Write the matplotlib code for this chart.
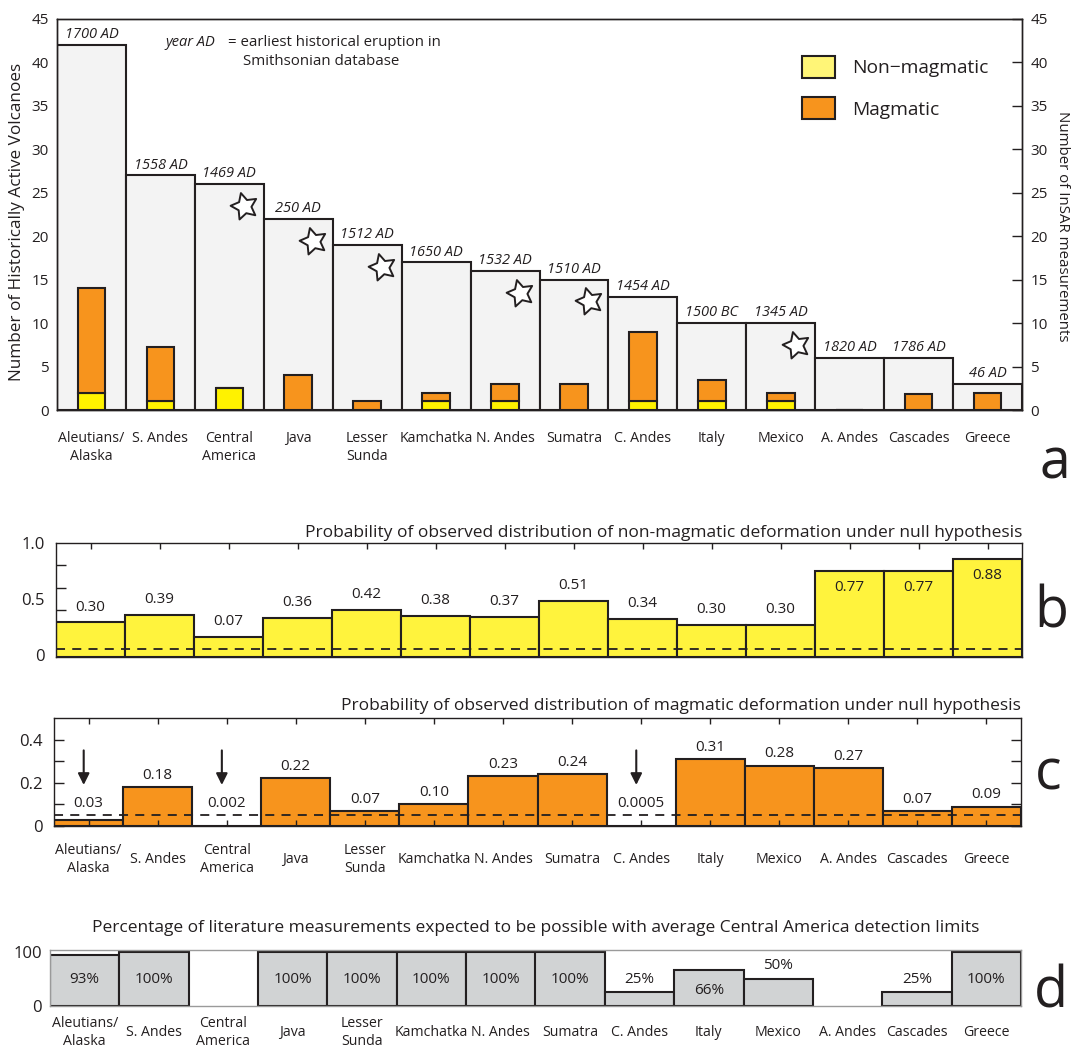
import numpy as np
import matplotlib.pyplot as plt
from matplotlib.path import Path
from matplotlib.markers import MarkerStyle
from matplotlib.patches import Patch
from matplotlib.transforms import Affine2D

plt.rcParams['font.family'] = ['Open Sans', 'DejaVu Sans']

# Regions, sorted by number of historically active volcanoes
regions = ['Aleutians/\nAlaska', 'S. Andes', 'Central\nAmerica', 'Java', 'Lesser\nSunda',
           'Kamchatka', 'N. Andes', 'Sumatra', 'C. Andes', 'Italy', 'Mexico',
           'A. Andes', 'Cascades', 'Greece']

# Panel a: volcano counts and InSAR measurements
active_volcanoes = [42, 27, 26, 22, 19, 17, 16, 15, 13, 10, 10, 6, 6, 3]
earliest_eruption = ['1700 AD', '1558 AD', '1469 AD', '250 AD', '1512 AD', '1650 AD',
                     '1532 AD', '1510 AD', '1454 AD', '1500 BC', '1345 AD', '1820 AD',
                     '1786 AD', '46 AD']
non_magmatic = [2, 1, 2.5, 0, 0, 1, 1, 0, 1, 1, 1, 0, 0, 0]
magmatic = [12, 6.2, 0, 4, 1, 1, 2, 3, 8, 2.5, 1, 0, 1.8, 2]
has_star = [False, False, True, True, True, False, True, True, False, False, True,
            False, False, False]

# Panel b: probability for non-magmatic deformation
p_nonmag_bar = [0.31, 0.38, 0.18, 0.35, 0.42, 0.37, 0.36, 0.50, 0.34, 0.29, 0.29,
                0.77, 0.77, 0.88]
p_nonmag_text = ['0.30', '0.39', '0.07', '0.36', '0.42', '0.38', '0.37', '0.51', '0.34',
                 '0.30', '0.30', '0.77', '0.77', '0.88']

# Panel c: probability for magmatic deformation
p_mag = [0.03, 0.18, 0.002, 0.22, 0.07, 0.10, 0.23, 0.24, 0.0005, 0.31, 0.28, 0.27,
         0.07, 0.09]
p_mag_text = ['0.03', '0.18', '0.002', '0.22', '0.07', '0.10', '0.23', '0.24', '0.0005',
              '0.31', '0.28', '0.27', '0.07', '0.09']
p_threshold = 0.05

# Panel d: percentage of literature measurements possible
pct_possible = [93, 100, np.nan, 100, 100, 100, 100, 100, 25, 66, 50, np.nan, 25, 100]

dark = '#231f20'
gray_fill = '#f3f3f3'
orange = '#f7941d'
yellow = '#fff200'
yellow_light = '#fff33d'
gray_d = '#d1d3d4'
lw = 1.5

x = np.arange(len(regions))

fig = plt.figure(figsize=(10.75, 10.48), dpi=100)
W, H = 1075, 1048


def box(l, t, r, b):
    return [l / W, 1 - b / H, (r - l) / W, (b - t) / H]


def region_labels(ax, y_off, va):
    for i, name in enumerate(regions):
        ax.annotate(name, (i, 0), xycoords=('data', 'axes fraction'),
                    xytext=(0, y_off), textcoords='offset points',
                    ha='center', va=va, fontsize=10.2, color=dark, linespacing=1.25)


# ---------------- panel a ----------------
ax = fig.add_axes(box(57, 19, 1022, 410))
ax.bar(x, active_volcanoes, width=1.0, color=gray_fill, edgecolor=dark, linewidth=lw, zorder=1)
ax.bar(x, non_magmatic, width=0.4, color=yellow, edgecolor=dark, linewidth=lw, zorder=2)
ax.bar(x, magmatic, width=0.4, bottom=non_magmatic, color=orange, edgecolor=dark,
       linewidth=lw, zorder=2)

for i, (h, yr) in enumerate(zip(active_volcanoes, earliest_eruption)):
    ax.annotate(yr, (i, h), xytext=(0, 2), textcoords='offset points', ha='center',
                va='bottom', fontsize=10.5, style='italic', color=dark)

star_path = Path.unit_regular_star(5, innerCircle=0.5)
star = MarkerStyle(star_path, transform=Affine2D().rotate_deg(15))
sx = [i + 0.22 for i in x if has_star[i]]
sy = [active_volcanoes[i] - 2.5 for i in x if has_star[i]]
ax.plot(sx, sy, linestyle='none', marker=star, markersize=20, markerfacecolor='white',
        markeredgecolor=dark, markeredgewidth=1.4, zorder=3)

ax.text(1.07, 42.3, 'year AD', style='italic', fontsize=10.5, color=dark, va='center')
ax.text(1.98, 42.3, '= earliest historical eruption in', fontsize=10.8, color=dark, va='center')
ax.text(2.2, 40.1, 'Smithsonian database', fontsize=10.8, color=dark, va='center')

ax.set_xlim(-0.5, 13.5)
ax.set_ylim(0, 45)
ax.set_xticks([])
ax.set_yticks(range(0, 46, 5))
ax.tick_params(axis='y', length=0, labelsize=11, labelcolor=dark, pad=6)
ax.set_ylabel('Number of Historically Active Volcanoes', fontsize=12.3, color=dark)
ax.yaxis.set_label_coords(-0.033, 0.48)
for s in ax.spines.values():
    s.set_color(dark)
    s.set_linewidth(1)

ax2 = ax.twinx()
ax2.set_ylim(0, 45)
ax2.set_yticks(range(0, 46, 5))
ax2.tick_params(axis='y', direction='in', length=7, width=1, color=dark, labelsize=11,
                labelcolor=dark, pad=6)
ax2.set_ylabel('Number of InSAR measurements', fontsize=10.8, color=dark, rotation=270)
ax2.yaxis.set_label_coords(1.05, 0.47)
for s in ax2.spines.values():
    s.set_color(dark)
    s.set_linewidth(1)

ax.legend(handles=[Patch(facecolor='#fff577', edgecolor=dark, linewidth=lw, label='Non\u2212magmatic'),
                   Patch(facecolor=orange, edgecolor=dark, linewidth=lw, label='Magmatic')],
          loc='upper left', bbox_to_anchor=(0.762, 0.93), frameon=False, fontsize=13.8,
          handlelength=1.75, handleheight=1.4, handletextpad=0.85, labelspacing=1.0,
          borderpad=0, labelcolor=dark)

region_labels(ax, -15, 'top')

# ---------------- panel b ----------------
bx = fig.add_axes(box(56, 543, 1022, 657))
bx.bar(x, p_nonmag_bar, width=1.0, bottom=-0.02, color=yellow_light, edgecolor=dark,
       linewidth=lw, zorder=1)
bx.axhline(p_threshold, color=dark, linestyle=(0, (5, 4)), linewidth=1.3, zorder=2)
for i, (h, t) in enumerate(zip(p_nonmag_bar, p_nonmag_text)):
    if h > 0.6:
        bx.annotate(t, (i, h), xytext=(0, -8), textcoords='offset points', ha='center',
                    va='top', fontsize=11, color=dark)
    else:
        bx.annotate(t, (i, h), xytext=(0, 4), textcoords='offset points', ha='center',
                    va='bottom', fontsize=11, color=dark)
bx.set_xlim(-0.5, 13.5)
bx.set_ylim(-0.02, 1.0)
bx.set_yticks([0, 0.5, 1.0])
bx.set_yticklabels(['0', '0.5', '1.0'])
bx.set_yticks([0.4, 0.6, 0.8], minor=True)
bx.tick_params(axis='y', which='major', length=0, labelsize=12, labelcolor=dark, pad=8)
bx.tick_params(axis='y', which='minor', direction='in', length=7, width=1, color=dark)
bx.set_xticks(x)
bx.tick_params(axis='x', direction='in', length=4, width=1, color=dark, top=True,
               bottom=False, labelbottom=False)
bx.set_title('Probability of observed distribution of non-magmatic deformation under null hypothesis',
             loc='right', fontsize=12.5, color=dark, pad=4)
for s in bx.spines.values():
    s.set_color(dark)
    s.set_linewidth(1)

# ---------------- panel c ----------------
cx = fig.add_axes(box(54, 718, 1021, 826))
cx.bar(x, p_mag, width=1.0, color=orange, edgecolor=dark, linewidth=lw, zorder=1)
cx.axhline(p_threshold, color=dark, linestyle=(0, (5, 4)), linewidth=1.3, zorder=2)
for i, (h, t) in enumerate(zip(p_mag, p_mag_text)):
    cx.annotate(t, (i, max(h, p_threshold)), xytext=(0, 3), textcoords='offset points',
                ha='center', va='bottom', fontsize=11, color=dark)
    if h < p_threshold:
        cx.annotate('', xy=(i - 0.07, 0.19), xytext=(i - 0.07, 0.35),
                    arrowprops=dict(arrowstyle='-|>', color=dark, lw=1.5,
                                    mutation_scale=17, shrinkA=0, shrinkB=0))
cx.set_xlim(-0.5, 13.5)
cx.set_ylim(0, 0.5)
cx.set_yticks([0, 0.2, 0.4])
cx.set_yticklabels(['0', '0.2', '0.4'])
cx.set_yticks([0.1, 0.3], minor=True)
cx.tick_params(axis='y', which='both', direction='in', length=7, width=1, color=dark,
               right=True, labelsize=12, labelcolor=dark, pad=8)
cx.set_xticks(x)
cx.tick_params(axis='x', direction='in', length=4, width=1, color=dark, top=True,
               labelbottom=False)
cx.set_title('Probability of observed distribution of magmatic deformation under null hypothesis',
             loc='right', fontsize=12.5, color=dark, pad=6)
for s in cx.spines.values():
    s.set_color(dark)
    s.set_linewidth(1)
region_labels(cx, -24, 'center')

# ---------------- panel d ----------------
dx = fig.add_axes(box(50, 950, 1021, 1006))
dx.bar(x, pct_possible, width=1.0, color=gray_d, edgecolor=dark, linewidth=lw, zorder=2)
for i, v in enumerate(pct_possible):
    if np.isnan(v):
        continue
    t = '%d%%' % v
    if v < 40 or v > 90:
        dx.text(i, 48, t, ha='center', va='center', fontsize=11, color=dark, zorder=3)
    elif v < 60:
        dx.annotate(t, (i, v), xytext=(0, 4), textcoords='offset points', ha='center',
                    va='bottom', fontsize=11, color=dark, zorder=3)
    else:
        dx.annotate(t, (i, v), xytext=(0, -9), textcoords='offset points', ha='center',
                    va='top', fontsize=11, color=dark, zorder=3)
dx.set_xlim(-0.5, 13.5)
dx.set_ylim(0, 103)
dx.set_xticks([])
dx.set_yticks([0, 100])
dx.tick_params(axis='y', length=0, labelsize=12, labelcolor=dark, pad=6)
for s in dx.spines.values():
    s.set_color('#9a9a9a')
    s.set_linewidth(1)
dx.set_title('Percentage of literature measurements expected to be possible with average Central America detection limits',
             fontsize=12.5, color=dark, pad=13)
region_labels(dx, -19, 'center')

# panel letters
for letter, px, py in [('a', 1055, 479), ('b', 1051, 628), ('c', 1048, 790), ('d', 1051, 1008)]:
    fig.text(px / W, 1 - py / H, letter, fontsize=40, ha='center', va='baseline', color=dark)

fig.savefig('out.png', dpi=100)
